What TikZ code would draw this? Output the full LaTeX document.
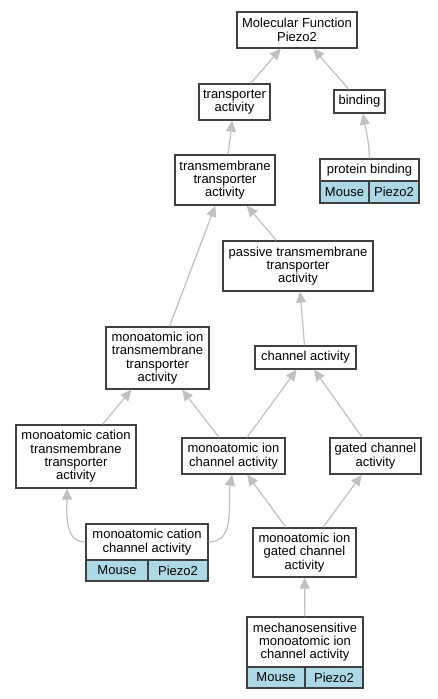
\documentclass[tikz,border=0pt]{standalone}
\usepackage{fontspec}
\setmainfont{Liberation Sans}
\usetikzlibrary{arrows.meta,calc}
\definecolor{linkgray}{RGB}{192,192,192}
\definecolor{boxborder}{RGB}{64,64,64}
\definecolor{cellblue}{RGB}{173,216,230}
\begin{document}
\begin{tikzpicture}[x=1pt,y=-1pt,
  gobox/.style={draw=boxborder,line width=1.3pt,fill=white,inner sep=0pt,align=center,
    font=\fontsize{13pt}{13.3pt}\selectfont},
  cellbox/.style={gobox,fill=cellblue},
  link/.style={draw=linkgray,line width=1.2pt,-{Triangle[length=11pt,width=10pt,fill=linkgray]}}]
\useasboundingbox (0,0) rectangle (437,699);
\fill[white] (0,0) rectangle (437,699);
% nodes
\node[gobox,minimum width=120pt,minimum height=36pt] (mf) at (297,30) {Molecular Function\\Piezo2};
\node[gobox,minimum width=71pt,minimum height=36pt] (ta) at (234.5,102) {transporter\\activity};
\node[gobox,minimum width=51pt,minimum height=23pt] (bind) at (359.5,101.5) {binding};
\node[gobox,minimum width=100pt,minimum height=50pt] (tta) at (225,180) {transmembrane\\transporter\\activity};
\node[gobox,minimum width=99pt,minimum height=22pt] (pb) at (369.5,170) {protein binding};
\node[cellbox,minimum width=49pt,minimum height=22pt] (pbm) at (344.5,192) {Mouse};
\node[cellbox,minimum width=50pt,minimum height=22pt] (pbp) at (394,192) {Piezo2};
\node[gobox,minimum width=150pt,minimum height=50pt] (ptta) at (298,266) {passive transmembrane\\transporter\\activity};
\node[gobox,minimum width=103pt,minimum height=62pt] (mitta) at (157.5,358) {monoatomic ion\\transmembrane\\transporter\\activity};
\node[gobox,minimum width=101pt,minimum height=23pt] (ca) at (305.5,357.5) {channel activity};
\node[gobox,minimum width=120pt,minimum height=63pt] (mctta) at (76,456.5) {monoatomic cation\\transmembrane\\transporter\\activity};
\node[gobox,minimum width=103pt,minimum height=36pt] (mica) at (233.5,456) {monoatomic ion\\channel activity};
\node[gobox,minimum width=91pt,minimum height=36pt] (gca) at (375.5,456) {gated channel\\activity};
\node[gobox,minimum width=122pt,minimum height=36pt] (mcca) at (147,542) {monoatomic cation\\channel activity};
\node[cellbox,minimum width=62pt,minimum height=21pt] (mccam) at (117,570.5) {Mouse};
\node[cellbox,minimum width=60pt,minimum height=21pt] (mccap) at (178,570.5) {Piezo2};
\node[gobox,minimum width=103pt,minimum height=49pt] (migca) at (304.5,552.5) {monoatomic ion\\gated channel\\activity};
\node[gobox,minimum width=116pt,minimum height=50pt] (mech) at (305,642) {mechanosensitive\\monoatomic ion\\channel activity};
\node[cellbox,minimum width=58pt,minimum height=21pt] (mechm) at (276,677.5) {Mouse};
\node[cellbox,minimum width=58pt,minimum height=21pt] (mechp) at (334,677.5) {Piezo2};
% links
\draw[link] (ta) -- (mf);
\draw[link] (bind) -- (mf);
\draw[link] (tta) -- (ta);
\draw[link] (pb.north) to[out=92,in=-80] (bind.south -| 363,0);
\draw[link] (mitta) -- (tta);
\draw[link] (ptta) -- (tta);
\draw[link] (ca) -- (ptta);
\draw[link] (mica) -- (mitta);
\draw[link] (mctta) -- (mitta);
\draw[link] (mica) -- (ca);
\draw[link] (gca) -- (ca);
\draw[link] (mcca.west) to[out=180,in=-90] ($(mctta.south)+(-9,0)$);
\draw[link] (mcca.east) to[out=0,in=-100] ($(mica.south)+(-1.5,0)$);
\draw[link] (migca) -- (mica);
\draw[link] (migca) -- (gca);
\draw[link] (mech) -- (migca);
\end{tikzpicture}
\end{document}
